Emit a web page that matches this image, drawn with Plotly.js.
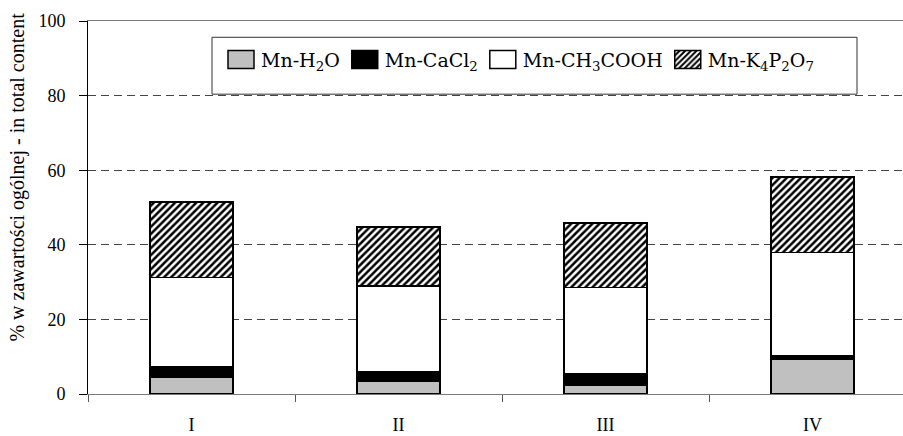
<!DOCTYPE html>
<html>
<head>
<meta charset="utf-8">
<script src="https://cdn.plot.ly/plotly-3.0.1.min.js"></script>
<style>html,body{margin:0;padding:0;background:#fff;}#chart{width:903px;height:436px;}</style>
</head>
<body>
<div id="chart"></div>
<script>
const categories = ['I', 'II', 'III', 'IV'];
const mnH2O = [4.5, 3.4, 2.3, 9.2];
const mnCaCl2 = [2.7, 2.5, 3.0, 1.0];
const mnCH3COOH = [24.0, 23.1, 23.2, 27.8];
const mnK4P2O7 = [20.3, 15.8, 17.3, 20.2];
const seriesNames = ['Mn-H<sub>2</sub>O', 'Mn-CaCl<sub>2</sub>', 'Mn-CH<sub>3</sub>COOH', 'Mn-K<sub>4</sub>P<sub>2</sub>O<sub>7</sub>'];
const yTickVals = [0, 20, 40, 60, 80, 100];
const yTitle = '% w zawartości ogólnej - in total content';

const W = 903, H = 436;
const L = 88, R = 903, T = 20.7, B = 394.3;
const pw = R - L, ph = B - T;
const px = x => (x - L) / pw;
const py = y => (B - y) / ph;

const lineStyle = {color: '#000', width: 1.5};
function bar(name, vals, marker) {
  return {type: 'bar', name: name, x: categories, y: vals, width: 0.4,
    marker: Object.assign({line: lineStyle}, marker), hoverinfo: 'skip'};
}
const traces = [
  bar(seriesNames[0], mnH2O, {color: '#c0c0c0'}),
  bar(seriesNames[1], mnCaCl2, {color: '#000000'}),
  bar(seriesNames[2], mnCH3COOH, {color: '#ffffff'}),
  bar(seriesNames[3], mnK4P2O7, {color: '#ffffff', pattern: {shape: '/', fgcolor: '#000', bgcolor: '#fff', size: 5, solidity: 0.5}})
];

const serif = "'Liberation Serif', 'Times New Roman', serif";
const layout = {
  width: W, height: H,
  margin: {l: L, r: W - R, t: T, b: H - B, pad: 0},
  paper_bgcolor: '#fff', plot_bgcolor: '#fff',
  barmode: 'stack',
  showlegend: true,
  legend: {orientation: 'h', x: px(221), y: py(59.5), xanchor: 'left', yanchor: 'middle',
    bgcolor: 'rgba(0,0,0,0)', borderwidth: 0, traceorder: 'normal',
    font: {family: "'DejaVu Serif', serif", size: 19, color: '#000'}},
  xaxis: {type: 'category', range: [-0.5, -0.5 + pw / 207], tickson: 'boundaries',
    ticks: 'outside', ticklen: 7, tickcolor: '#555', tickwidth: 1,
    showline: true, linecolor: '#7a7a7a', linewidth: 1, mirror: true,
    showgrid: false, ticklabelstandoff: 14,
    tickfont: {family: serif, size: 18, color: '#000'}},
  yaxis: {range: [0, 100], tickvals: yTickVals, ticks: 'outside', ticklen: 8, tickcolor: '#000',
    showline: true, linecolor: '#000', linewidth: 1, mirror: false, zeroline: false,
    showgrid: true, gridcolor: '#444', griddash: '8px,5px', gridwidth: 1,
    ticklabelstandoff: 10,
    tickfont: {family: serif, size: 18, color: '#000'}},
  shapes: [{type: 'rect', xref: 'paper', yref: 'paper', x0: px(212), x1: px(857), y0: py(94), y1: py(37),
    line: {color: '#333', width: 1}, fillcolor: 'rgba(0,0,0,0)', layer: 'above'}],
  annotations: [{text: yTitle, xref: 'paper', yref: 'paper', x: px(17.5), y: py(177),
    xanchor: 'center', yanchor: 'middle', textangle: -90, showarrow: false,
    font: {family: serif, size: 20, color: '#000'}}]
};

Plotly.newPlot('chart', traces, layout, {staticPlot: true}).then(function () {
  document.querySelectorAll('.legend .legendpoints path').forEach(function (p) {
    p.setAttribute('d', 'M13,9H-13V-9H13Z');
  });
});
</script>
</body>
</html>
